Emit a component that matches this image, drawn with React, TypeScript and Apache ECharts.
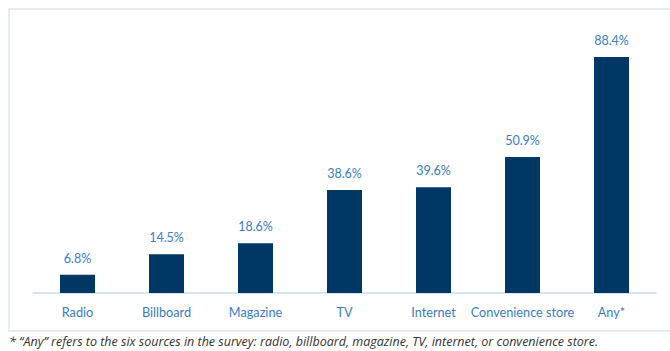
import React, { useEffect, useRef } from "react";
import * as echarts from "echarts";

const categories = ["Radio", "Billboard", "Magazine", "TV", "Internet", "Convenience store", "Any*"];
const values = [6.8, 14.5, 18.6, 38.6, 39.6, 50.9, 88.4];
const footnote = "* \u201cAny\u201d refers to the six sources in the survey: radio, billboard, magazine, TV, internet, or convenience store.";

export default function App() {
  const ref = useRef<HTMLDivElement>(null);
  useEffect(() => {
    if (!ref.current) return;
    const chart = echarts.init(ref.current, null, { renderer: "svg" });
    const font = "Lato, 'Open Sans', sans-serif";
    chart.setOption({
      animation: false,
      backgroundColor: "#ffffff",
      grid: { left: 33, right: 14, top: 26, bottom: 58 },
      xAxis: {
        type: "category",
        data: categories,
        axisLine: { lineStyle: { color: "#c9dcf0", width: 1.5 } },
        axisTick: { show: false },
        axisLabel: { color: "#3a7cc4", fontSize: 12.7, fontFamily: font, margin: 12, interval: 0 },
      },
      yAxis: {
        type: "value",
        min: 0,
        max: 100,
        show: false,
        splitLine: { show: false },
      },
      series: [
        {
          type: "bar",
          data: values,
          barWidth: 35,
          itemStyle: { color: "#003764" },
          label: {
            show: true,
            position: "top",
            distance: 10,
            formatter: (p: any) => p.value.toFixed(1) + "%",
            color: "#3a7cc4",
            fontSize: 12.5,
            fontFamily: font,
          },
        },
      ],
      graphic: [
        {
          type: "rect",
          shape: { x: 9, y: 9, width: 680, height: 322 },
          style: { fill: "none", stroke: "#dbe7f4", lineWidth: 1.5 },
          silent: true,
        },
        {
          type: "text",
          left: 9,
          top: 335,
          style: {
            text: footnote,
            fill: "#333333",
            fontSize: 12.5,
            fontStyle: "italic",
            fontFamily: "'Open Sans', sans-serif",
          },
        },
      ],
    });
    return () => chart.dispose();
  }, []);
  return <div ref={ref} style={{ position: "fixed", left: 0, top: 0, width: 670, height: 351 }} />;
}
